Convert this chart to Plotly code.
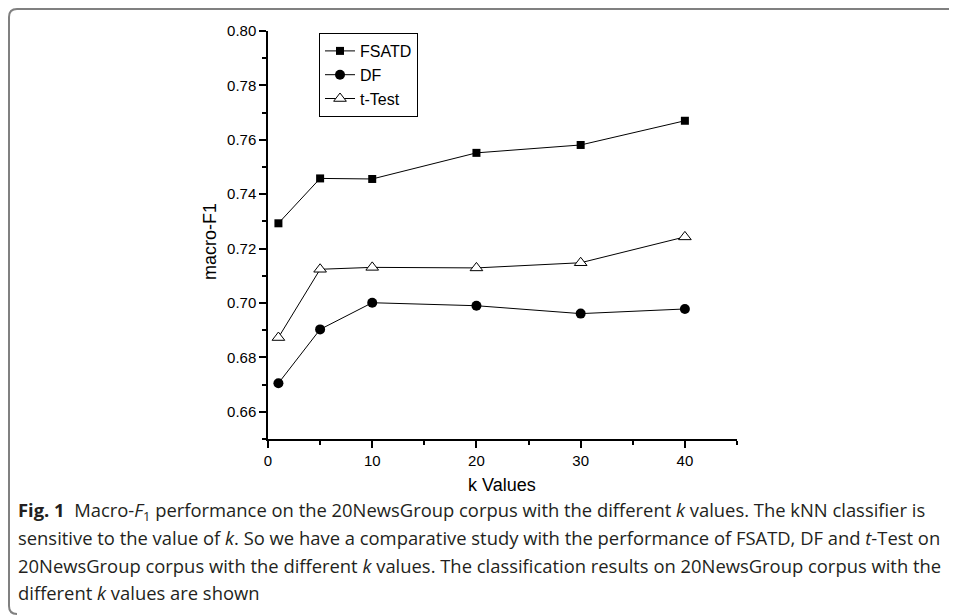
import plotly.graph_objects as go

k_values = [1, 5, 10, 20, 30, 40]
fsatd = [0.7293, 0.7458, 0.7456, 0.7552, 0.7581, 0.7670]
df_vals = [0.6705, 0.6903, 0.7001, 0.6990, 0.6961, 0.6978]
ttest = [0.6873, 0.7124, 0.7131, 0.7129, 0.7148, 0.7243]
y_ticks = [0.66, 0.68, 0.70, 0.72, 0.74, 0.76, 0.78, 0.80]
x_ticks = [0, 10, 20, 30, 40]

OFF = 8  # page body margin
W, H = 957 - OFF, 615 - OFF
L, R, T, B = 268 - OFF, 737 - OFF, 31 - OFF, 439 - OFF  # plot area in figure pixels


def px(xs):
    """screen x pixel -> paper x"""
    return (xs - OFF - L) / (R - L)


def py(ys):
    """screen y pixel -> paper y"""
    return (B - (ys - OFF)) / (B - T)


fig = go.Figure()
fig.add_trace(go.Scatter(x=k_values, y=fsatd, name="FSATD", mode="lines+markers",
                         line=dict(color="black", width=1),
                         marker=dict(symbol="square", size=8, color="black")))
fig.add_trace(go.Scatter(x=k_values, y=df_vals, name="DF", mode="lines+markers",
                         line=dict(color="black", width=1),
                         marker=dict(symbol="circle", size=10, color="black")))
fig.add_trace(go.Scatter(x=k_values, y=ttest, name="t-Test", mode="lines+markers",
                         line=dict(color="black", width=1),
                         marker=dict(symbol="triangle-up", size=11, color="white",
                                     line=dict(color="black", width=1))))

axis_font = dict(family="Liberation Sans, Arial, sans-serif", size=15, color="black")

fig.update_layout(
    width=W, height=H,
    margin=dict(l=L, r=W - R, t=T, b=H - B),
    paper_bgcolor="white", plot_bgcolor="white",
    showlegend=True,
    legend=dict(x=px(319), y=py(33), xanchor="left", yanchor="top",
                bordercolor="black", borderwidth=1, bgcolor="white",
                font=dict(family="Liberation Sans, Arial, sans-serif", size=16, color="black"),
                tracegroupgap=0, itemwidth=30),
    xaxis=dict(range=[0, 45], tickvals=x_ticks, ticks="outside", ticklen=7, tickwidth=1.5,
               tickcolor="black", showline=True, linecolor="black", linewidth=1.5,
               showgrid=False, zeroline=False, tickfont=axis_font,
               minor=dict(ticks="outside", ticklen=4, tickwidth=1.5, tickcolor="black", dtick=5,
                          showgrid=False)),
    yaxis=dict(range=[0.65, 0.80], tickvals=y_ticks, tickformat=".2f", ticks="outside",
               ticklen=7, tickwidth=1.5, tickcolor="black", showline=True, linecolor="black",
               linewidth=1.5, showgrid=False, zeroline=False, tickfont=axis_font,
               minor=dict(ticks="outside", ticklen=4, tickwidth=1.5, tickcolor="black",
                          dtick=0.01, tick0=0.65, showgrid=False)),
)

title_font = dict(family="Liberation Sans, Arial, sans-serif", size=18, color="black")
fig.add_annotation(text="k Values", xref="paper", yref="paper", x=px(502), y=py(485),
                   xanchor="center", yanchor="middle", showarrow=False, font=title_font)
fig.add_annotation(text="macro-F1", xref="paper", yref="paper", x=px(210), y=py(242),
                   xanchor="center", yanchor="middle", showarrow=False, textangle=-90,
                   font=title_font)

cap_font = dict(family="Open Sans, Noto Sans, sans-serif", size=18.4, color="#231f20")
caption_lines = [
    "<b>Fig. 1</b>&nbsp;&nbsp;Macro-<i>F</i><sub>1</sub> performance on the 20NewsGroup corpus with the different <i>k</i> values. The kNN classifier is",
    "sensitive to the value of <i>k</i>. So we have a comparative study with the performance of FSATD, DF and <i>t</i>-Test on",
    "20NewsGroup corpus with the different <i>k</i> values. The classification results on 20NewsGroup corpus with the",
    "different <i>k</i> values are shown",
]
for i, line in enumerate(caption_lines):
    fig.add_annotation(text=line, xref="paper", yref="paper", x=px(16), y=py(510.5 + 27.3 * i),
                       xanchor="left", yanchor="middle", showarrow=False, align="left",
                       font=cap_font)

# rounded frame (top + left)
r = 8
fx, fy = 9, 9
path = (f"M {px(fx + 8)},{py(614)} Q {px(fx)},{py(614)} {px(fx)},{py(606)} "
        f"L {px(fx)},{py(fy + r)} Q {px(fx)},{py(fy)} {px(fx + r)},{py(fy)} L {px(970)},{py(fy)}")
fig.add_shape(type="path", xref="paper", yref="paper", path=path,
              line=dict(color="#808080", width=2))

fig.write_html("out.html")
